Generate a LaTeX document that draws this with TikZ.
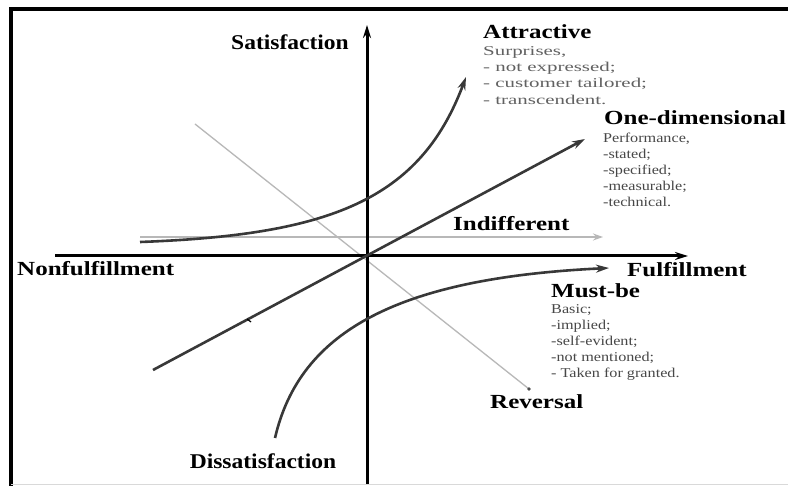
\documentclass[tikz,border=0pt]{standalone}
\usepackage{fontspec}
\setmainfont{Liberation Serif}
\newfontfamily\titlefont[FakeStretch=1.25]{Liberation Serif}
\newfontfamily\axfont[FakeStretch=1.12]{Liberation Serif}
\newfontfamily\subfont[FakeStretch=1.2]{Liberation Serif}
\newfontfamily\attfont[FakeStretch=1.55]{Liberation Serif}
\usetikzlibrary{arrows.meta}
\tikzset{
  ttl/.style={font=\titlefont\fontsize{20}{24}\selectfont\bfseries, inner sep=0pt, anchor=base west},
  axl/.style={font=\axfont\fontsize{21}{24}\selectfont\bfseries, inner sep=0pt, anchor=base},
  sub/.style={font=\subfont\fontsize{13.5}{16}\selectfont, text=black!72, inner sep=0pt, anchor=north west, align=left},
  attsub/.style={sub, font=\attfont\fontsize{13.5}{16.3}\selectfont, text=black!62},
  tip/.style={-{Stealth[length=13pt,width=8pt]}},
  axisline/.style={tip, line width=3pt, draw=black},
  curveline/.style={tip, line width=2.6pt, draw=black!78},
  faintline/.style={line width=1.3pt, draw=black!28},
}
\begin{document}
\begin{tikzpicture}[x=1pt,y=-1pt]
\useasboundingbox (0,0) rectangle (788,486);
\fill[white] (0,0) rectangle (788,486);
% frame
\draw[line width=3.5pt, black] (788,9) -- (11,9) -- (11,486);
\draw[line width=1pt, black!15] (11,484.5) -- (788,484.5);

% coordinates
\coordinate (O) at (367,256);
\coordinate (xl) at (55,256);
\coordinate (xr) at (688,256);
\coordinate (yb) at (367,484);
\coordinate (yt) at (367,25);
\coordinate (a0) at (140,242);
\coordinate (a1) at (466,77);
\coordinate (m0) at (275,438);
\coordinate (m1) at (609,268);
\coordinate (d0) at (153,370);
\coordinate (d1) at (585,139);
\coordinate (i0) at (140,237);
\coordinate (i1) at (603,237);
\coordinate (r0) at (195,124);
\coordinate (r1) at (529,389);

% faint lines
\draw[faintline] (r0) -- (r1);
\draw[faintline, -{Stealth[length=10pt,width=7pt,open]}] (i0) -- (i1);
\fill[black!70] (r1) circle (1.8pt);

% axes
\draw[axisline] (xl) -- (xr);
\draw[axisline] (yb) -- (yt);

% curves
\draw[curveline] (a0) .. controls (330,235) and (420,200) .. (a1);
\draw[curveline] (m0) .. controls (300,330) and (400,278) .. (m1);
\draw[curveline] (d0) -- (d1);
\draw[line width=1.2pt, black] (247,319) -- (251,322);

% axis labels
\node[axl] (sat) at (290,50) {Satisfaction};
\node[axl] (dis) at (263,469) {Dissatisfaction};
\node[ttl] (nf) at (17,276) {Nonfulfillment};
\node[ttl] (ff) at (627,277) {Fulfillment};

% category labels
\node[ttl] (att) at (483,39) {Attractive};
\node[attsub] (attx) at (483,46) {Surprises,\\- not expressed;\\- customer tailored;\\- transcendent.};
\node[ttl] (one) at (604,125) {One-dimensional};
\node[sub] (onex) at (603,133) {Performance,\\-stated;\\-specified;\\-measurable;\\-technical.};
\node[ttl] (ind) at (453,231) {Indifferent};
\node[ttl] (must) at (551,298) {Must-be};
\node[sub] (mustx) at (551,304) {Basic;\\-implied;\\-self-evident;\\-not mentioned;\\- Taken for granted.};
\node[ttl] (rev) at (490,409) {Reversal};
\end{tikzpicture}
\end{document}
